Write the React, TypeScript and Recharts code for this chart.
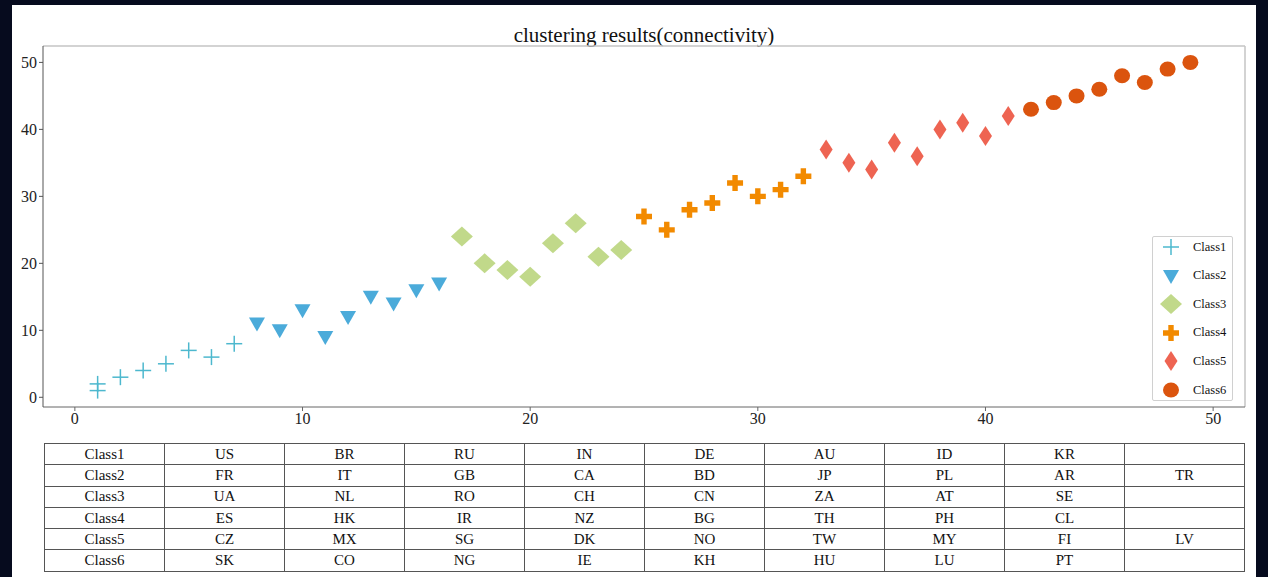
import React from "react";
import {
    ScatterChart,
    Scatter,
    XAxis,
    YAxis,
    ReferenceLine
} from "recharts";

// points per cluster
const class1Points = [
    { x: 1, y: 1 }, { x: 1, y: 2 }, { x: 2, y: 3 }, { x: 3, y: 4 },
    { x: 4, y: 5 }, { x: 5, y: 7 }, { x: 6, y: 6 }, { x: 7, y: 8 }
];
const class2Points = [
    { x: 8, y: 11 }, { x: 9, y: 10 }, { x: 10, y: 13 }, { x: 11, y: 9 },
    { x: 12, y: 12 }, { x: 13, y: 15 }, { x: 14, y: 14 }, { x: 15, y: 16 },
    { x: 16, y: 17 }
];
const class3Points = [
    { x: 17, y: 24 }, { x: 18, y: 20 }, { x: 19, y: 19 }, { x: 20, y: 18 },
    { x: 21, y: 23 }, { x: 22, y: 26 }, { x: 23, y: 21 }, { x: 24, y: 22 }
];
const class4Points = [
    { x: 25, y: 27 }, { x: 26, y: 25 }, { x: 27, y: 28 }, { x: 28, y: 29 },
    { x: 29, y: 32 }, { x: 30, y: 30 }, { x: 31, y: 31 }, { x: 32, y: 33 }
];
const class5Points = [
    { x: 33, y: 37 }, { x: 34, y: 35 }, { x: 35, y: 34 }, { x: 36, y: 38 },
    { x: 37, y: 36 }, { x: 38, y: 40 }, { x: 39, y: 41 }, { x: 40, y: 39 },
    { x: 41, y: 42 }
];
const class6Points = [
    { x: 42, y: 43 }, { x: 43, y: 44 }, { x: 44, y: 45 }, { x: 45, y: 46 },
    { x: 46, y: 48 }, { x: 47, y: 47 }, { x: 48, y: 49 }, { x: 49, y: 50 }
];

const class1Names = ["US", "BR", "RU", "IN", "DE", "AU", "ID", "KR"];
const class2Names = ["FR", "IT", "GB", "CA", "BD", "JP", "PL", "AR", "TR"];
const class3Names = ["UA", "NL", "RO", "CH", "CN", "ZA", "AT", "SE"];
const class4Names = ["ES", "HK", "IR", "NZ", "BG", "TH", "PH", "CL"];
const class5Names = ["CZ", "MX", "SG", "DK", "NO", "TW", "MY", "FI", "LV"];
const class6Names = ["SK", "CO", "NG", "IE", "KH", "HU", "LU", "PT"];

const xTicks = [0, 10, 20, 30, 40, 50];
const yTicks = [0, 10, 20, 30, 40, 50];

const FONT = "'Liberation Serif', 'DejaVu Serif', serif";

const drawPlus = (cx: number, cy: number) => (
    <g stroke="#4DB8CE" strokeWidth={1.5}>
        <line x1={cx - 8} y1={cy} x2={cx + 8} y2={cy} />
        <line x1={cx} y1={cy - 8} x2={cx} y2={cy + 8} />
    </g>
);

const drawTriangle = (cx: number, cy: number) => (
    <path
        d={`M${cx - 8},${cy - 6} L${cx + 8},${cy - 6} L${cx},${cy + 8} Z`}
        fill="#4BABDA"
    />
);

const drawDiamond = (cx: number, cy: number) => (
    <path
        d={`M${cx},${cy - 10} L${cx + 11},${cy} L${cx},${cy + 10} L${cx - 11},${cy} Z`}
        fill="#C1D98A"
    />
);

const drawFatPlus = (cx: number, cy: number) => (
    <path
        d={`M${cx - 2.7},${cy - 8} h5.4 v5.3 h5.3 v5.4 h-5.3 v5.3 h-5.4 v-5.3 h-5.3 v-5.4 h5.3 Z`}
        fill="#F28A00"
    />
);

const drawThinDiamond = (cx: number, cy: number) => (
    <path
        d={`M${cx},${cy - 10} L${cx + 6.5},${cy} L${cx},${cy + 10} L${cx - 6.5},${cy} Z`}
        fill="#EE6452"
    />
);

const drawCircle = (cx: number, cy: number) => (
    <ellipse cx={cx} cy={cy} rx={8} ry={7.5} fill="#DB540E" />
);

const classes = [
    { name: "Class1", points: class1Points, names: class1Names, draw: drawPlus },
    { name: "Class2", points: class2Points, names: class2Names, draw: drawTriangle },
    { name: "Class3", points: class3Points, names: class3Names, draw: drawDiamond },
    { name: "Class4", points: class4Points, names: class4Names, draw: drawFatPlus },
    { name: "Class5", points: class5Points, names: class5Names, draw: drawThinDiamond },
    { name: "Class6", points: class6Points, names: class6Names, draw: drawCircle }
];

const tickStyle = { fontFamily: FONT, fontSize: 16, fill: "#222" };

export default function App() {

    return (
        <div
            style={{
                position: "absolute",
                left: 0,
                top: 0,
                width: 1268,
                height: 577,
                background: "#060b1e"
            }}
        >
            <div
                style={{
                    position: "absolute",
                    left: 12,
                    top: 5,
                    width: 1244,
                    height: 572,
                    background: "#fff"
                }}
            />

            <div
                style={{
                    position: "absolute",
                    left: 43,
                    top: 23,
                    width: 1202,
                    textAlign: "center",
                    fontFamily: FONT,
                    fontSize: 21,
                    color: "#111"
                }}
            >
                clustering results(connectivity)
            </div>

            <div style={{ position: "absolute", left: 0, top: 0 }}>
                <ScatterChart
                    width={1268}
                    height={440}
                    margin={{ top: 46, left: 13, right: 23, bottom: 8 }}
                >
                    <XAxis
                        type="number"
                        dataKey="x"
                        domain={[-1.4, 51.4]}
                        ticks={xTicks}
                        allowDataOverflow
                        height={25}
                        tickSize={4}
                        tickMargin={2}
                        tick={tickStyle}
                        stroke="#666"
                    />
                    <YAxis
                        type="number"
                        dataKey="y"
                        domain={[-1.45, 52.45]}
                        ticks={yTicks}
                        allowDataOverflow
                        width={30}
                        tickSize={4}
                        tickMargin={2}
                        tick={tickStyle}
                        stroke="#555"
                    />
                    <ReferenceLine y={52.45} stroke="#c4c4c4" strokeWidth={1.5} />
                    <ReferenceLine x={51.4} stroke="#c4c4c4" strokeWidth={1.5} />

                    {
                        classes.map(
                            (c) => (
                                <Scatter
                                    key={c.name}
                                    name={c.name}
                                    data={c.points}
                                    isAnimationActive={false}
                                    shape={(p: any) => c.draw(p.cx, p.cy)}
                                />
                            )
                        )
                    }
                </ScatterChart>
            </div>

            {/* legend box */}
            <div
                style={{
                    position: "absolute",
                    left: 1152,
                    top: 236,
                    width: 79,
                    height: 163,
                    border: "1px solid #d0d0d0",
                    borderRadius: 2,
                    background: "#fff"
                }}
            >
                {
                    classes.map(
                        (c, i) => (
                            <div
                                key={c.name}
                                style={{
                                    position: "absolute",
                                    left: 0,
                                    top: 1 + i * 28.6,
                                    height: 18,
                                    display: "flex",
                                    alignItems: "center"
                                }}
                            >
                                <svg width={36} height={22} style={{ display: "block" }}>
                                    {c.draw(18, 11)}
                                </svg>
                                <span
                                    style={{
                                        fontFamily: FONT,
                                        fontSize: 12.5,
                                        color: "#111",
                                        marginLeft: 4
                                    }}
                                >
                                    {c.name}
                                </span>
                            </div>
                        )
                    )
                }
            </div>

            <table
                style={{
                    position: "absolute",
                    left: 44,
                    top: 443,
                    width: 1201,
                    borderCollapse: "collapse",
                    tableLayout: "fixed",
                    fontFamily: FONT,
                    fontSize: 15,
                    color: "#111"
                }}
            >
                <tbody>
                    {
                        classes.map(
                            (c) => (
                                <tr key={c.name} style={{ height: 21.3 }}>
                                    {
                                        [c.name, ...c.names, ...Array(9 - c.names.length).fill("")].map(
                                            (cell, j) => (
                                                <td
                                                    key={j}
                                                    style={{
                                                        border: "1px solid #555",
                                                        textAlign: "center",
                                                        padding: 0,
                                                        lineHeight: "19px",
                                                        fontFamily: FONT,
                                                        fontSize: 15
                                                    }}
                                                >
                                                    {cell}
                                                </td>
                                            )
                                        )
                                    }
                                </tr>
                            )
                        )
                    }
                </tbody>
            </table>
        </div>
    );
}
